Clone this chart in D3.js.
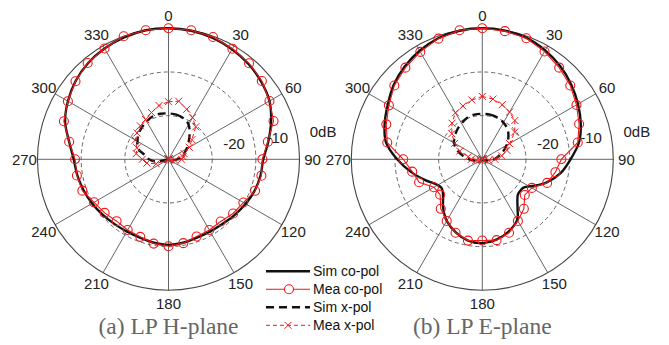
<!DOCTYPE html>
<html><head><meta charset="utf-8">
<script src="https://cdn.jsdelivr.net/npm/d3@7"></script>
<style>body{margin:0;background:#fff}</style>
</head><body><svg id="c" width="669" height="345"></svg>
<script>
// ---------- data ----------
const angleTicks = [0,30,60,90,120,150,180,210,240,270,300,330];
const ringLevels = [-20,-10,0];
const ringLabels = ["-20","-10","0dB"];
const step10 = [0,10,20,30,40,50,60,70,80,90,100,110,120,130,140,150,160,170,180,190,200,210,220,230,240,250,260,270,280,290,300,310,320,330,340,350];

// (a) LP H-plane
const hSimCo = [0,-0.1,-0.4,-0.9,-1.5,-2.3,-3.3,-5.0,-6.8,-8.3,-8.6,-9.0,-9.6,-10.2,-10.7,-10.9,-10.9,-10.6,-10.4,-10.6,-10.9,-10.9,-10.7,-10.3,-9.8,-9.3,-8.8,-8.3,-6.9,-4.8,-3.4,-2.2,-1.3,-0.7,-0.3,0];
const hMeaCo = [0,0,-0.2,-0.75,-1.3,-2.1,-3.3,-4.4,-6.9,-8.5,-8.4,-8.9,-10.2,-10.7,-11.4,-11.3,-11.2,-10.5,-10.1,-10.4,-11.1,-11.3,-11.5,-10.9,-10.3,-9.0,-8.7,-8.6,-6.9,-4.5,-3.4,-2.2,-1.2,-0.7,0,0];
const hSimX = [-19.5,-19.6,-20,-20.8,-22.5,-24,-25.2,-26.2,-27,-28,-29,-30,-30,-30,-30,-30,-30,-30,-30,-30,-30,-30,-30,-30,-30,-30,-27,-25.5,-24.5,-22.5,-21.8,-21,-20.5,-20,-19.5,-19.4];
const hMeaX = [-16.8,-16.5,-17.8,-19.0,-20.3,-23.0,-24.5,-26.2,-26.6,-27,-28.5,-29.5,-30,-30,-30,-30,-30,-30,-30,-30,-30,-30,-30,-30,-30,-27,-25,-24,-22.5,-22.3,-21.2,-20.6,-20,-19.5,-18.6,-17.5];

// (b) LP E-plane
const eSimCoAngles = [0,10,20,30,40,50,60,70,80,90,100,110,115,120,125,130,135,140,145,150,160,170,180,190,200,210,215,220,225,230,235,240,245,250,260,270,280,290,300,310,320,330,340,350];
const eSimCo = [0,-0.1,-0.4,-1.2,-2.2,-3.4,-4.7,-6.0,-7.5,-9.8,-11.8,-14.4,-16.0,-17.6,-18.6,-18.7,-18.5,-17.5,-15.9,-14.0,-12.4,-11.3,-10.8,-11.1,-12.2,-13.7,-14.8,-16.0,-17.3,-18.2,-18.6,-18.2,-17.3,-16.1,-13.4,-10.5,-7.6,-6.2,-5.0,-3.5,-2.3,-1.3,-0.5,-0.1];
const eMeaCo = [0,-0.2,-0.5,-1.5,-2.6,-3.7,-5.1,-6.4,-7.8,-11.9,-13.0,-14.2,-16.9,-17.3,-15.2,-13.7,-12.1,-11.2,-11.4,-11.1,-12.1,-13.7,-15.2,-17.4,-17.2,-14.6,-13.7,-11.9,-7.9,-6.6,-5.3,-3.7,-2.6,-1.6,-0.6,0];
const eSimX = [-19.6,-19.6,-19.8,-20.3,-21.0,-22.2,-23.6,-25,-26.3,-27.3,-28.5,-29.5,-30,-30,-30,-30,-30,-30,-30,-30,-30,-30,-30,-30,-30,-29.5,-28.3,-27,-25.5,-23.8,-22.5,-21.8,-21.1,-20.5,-19.9,-19.6];
const eMeaX = [-15.6,-16,-16.7,-17.5,-18.4,-20.3,-22.8,-24,-25.5,-27.1,-28.5,-29.5,-30,-30,-30,-30,-30,-30,-30,-30,-30,-30,-30,-30,-30,-29.5,-28.5,-27.5,-26.7,-24.5,-22.7,-20.9,-19.2,-17.7,-17,-16.2];

const legendLabels = ["Sim co-pol","Mea co-pol","Sim x-pol","Mea x-pol"];
const captions = ["(a) LP H-plane","(b) LP E-plane"];

// ---------- drawing ----------
const svg = d3.select("#c");
const R = 131;
const RED = "#f01818";
const rScale = d3.scaleLinear().domain([-30,0]).range([0,R]).clamp(true);
const toRad = d => d*Math.PI/180;

const panels = [
  {cx:168.5, cy:159.3, caption:captions[0],
   simCo:{a:step10, v:hSimCo}, meaCo:{a:step10, v:hMeaCo}, simX:{a:step10, v:hSimX}, meaX:{a:step10, v:hMeaX}},
  {cx:482.3, cy:159.3, caption:captions[1],
   simCo:{a:eSimCoAngles, v:eSimCo}, meaCo:{a:step10, v:eMeaCo}, simX:{a:step10, v:eSimX}, meaX:{a:step10, v:eMeaX}}
];

const zip = s => s.a.map((a,i)=>({a:a, v:s.v[i]}));
const smooth = d3.lineRadial().angle(d=>toRad(d.a)).radius(d=>rScale(d.v)).curve(d3.curveCatmullRomClosed.alpha(0.5));
const straight = d3.lineRadial().angle(d=>toRad(d.a)).radius(d=>rScale(d.v)).curve(d3.curveLinearClosed);
const px = d => rScale(d.v)*Math.sin(toRad(d.a));
const py = d => -rScale(d.v)*Math.cos(toRad(d.a));
const xMark = "M-3.5,-3.5L3.5,3.5M-3.5,3.5L3.5,-3.5";

panels.forEach(p => {
  const g = svg.append("g").attr("transform",`translate(${p.cx},${p.cy})`);
  // dashed rings
  g.selectAll(".ring").data(ringLevels.filter(l=>l<0)).enter().append("circle")
    .attr("r", d=>rScale(d)).attr("fill","none").attr("stroke","#555")
    .attr("stroke-width",0.9).attr("stroke-dasharray","4,3");
  // spokes
  g.selectAll(".spoke").data(angleTicks.filter(a=>a<180)).enter().append("line")
    .attr("x1", a=>R*Math.sin(toRad(a))).attr("y1", a=>-R*Math.cos(toRad(a)))
    .attr("x2", a=>-R*Math.sin(toRad(a))).attr("y2", a=>R*Math.cos(toRad(a)))
    .attr("stroke","#555").attr("stroke-width",0.9);
  // outer ring
  g.append("circle").attr("r", rScale(0)).attr("fill","none").attr("stroke","#444").attr("stroke-width",1.1);
  // angle labels
  g.selectAll(".al").data(angleTicks).enter().append("text")
    .attr("x", a=>R*1.1*Math.sin(toRad(a))).attr("y", a=>-R*1.1*Math.cos(toRad(a)))
    .attr("dy","0.36em").attr("text-anchor","middle")
    .attr("font-family","Liberation Sans, Arial, sans-serif").attr("font-size",15).attr("fill","#222")
    .text(a=>a);

  // sim co-pol
  g.append("path").attr("d", smooth(zip(p.simCo))).attr("fill","none").attr("stroke","#111").attr("stroke-width",2.4);
  // sim x-pol
  g.append("path").attr("d", smooth(zip(p.simX))).attr("fill","none").attr("stroke","#111").attr("stroke-width",2.4).attr("stroke-dasharray","8,5");
  // mea x-pol
  const mx = zip(p.meaX);
  g.append("path").attr("d", straight(mx)).attr("fill","none").attr("stroke",RED).attr("stroke-width",1).attr("stroke-dasharray","4,3");
  g.selectAll(".xm").data(mx).enter().append("path")
    .attr("d", xMark).attr("transform", d=>`translate(${px(d)},${py(d)})`)
    .attr("stroke",RED).attr("stroke-width",1).attr("fill","none");
  // mea co-pol
  const mc = zip(p.meaCo);
  g.append("path").attr("d", straight(mc)).attr("fill","none").attr("stroke",RED).attr("stroke-width",1.1);
  g.selectAll(".cm").data(mc).enter().append("circle")
    .attr("cx", px).attr("cy", py).attr("r",4.5)
    .attr("fill","none").attr("stroke",RED).attr("stroke-width",1.1);

  // ring labels (placed at 8 deg above horizontal)
  g.selectAll(".rl").data(ringLevels).enter().append("text")
    .attr("x", (d)=>rScale(d)*Math.cos(toRad(8))+11.5)
    .attr("y", (d)=>-rScale(d)*Math.sin(toRad(8))-9.3)
    .attr("dy","0.36em").attr("text-anchor","start")
    .attr("font-family","Liberation Sans, Arial, sans-serif").attr("font-size",15).attr("fill","#222")
    .text((d,i)=>ringLabels[i]);

  // caption
  svg.append("text").attr("x", p.cx).attr("y", 334)
    .attr("text-anchor","middle").attr("font-family","Liberation Serif, Times New Roman, serif")
    .attr("font-size",23.5).attr("fill","#666").text(p.caption);
});

// legend
const legendStyles = [
  {stroke:"#111", w:2.4, dash:null, marker:null},
  {stroke:RED, w:1.1, dash:null, marker:"circle"},
  {stroke:"#111", w:2.4, dash:"8,5", marker:null},
  {stroke:RED, w:1, dash:"4,3", marker:"x"}
];
const lg = svg.append("g");
const ly = d3.scaleLinear().domain([0,3]).range([271.3,325.3]);
legendLabels.forEach((t,i)=>{
  const s = legendStyles[i], y = ly(i);
  const ln = lg.append("line").attr("x1",266).attr("x2",310).attr("y1",y).attr("y2",y)
    .attr("stroke",s.stroke).attr("stroke-width",s.w);
  if (s.dash) ln.attr("stroke-dasharray", s.dash);
  if (s.marker==="circle") lg.append("circle").attr("cx",289).attr("cy",y).attr("r",4.5).attr("fill","#fff").attr("stroke",RED).attr("stroke-width",1.1);
  if (s.marker==="x") lg.append("path").attr("d",xMark).attr("transform",`translate(288,${y})`).attr("stroke",RED).attr("stroke-width",1);
  lg.append("text").attr("x",313).attr("y",y).attr("dy","0.36em")
    .attr("font-family","Liberation Sans, Arial, sans-serif").attr("font-size",14).attr("fill","#111").text(t);
});
</script></body></html>
